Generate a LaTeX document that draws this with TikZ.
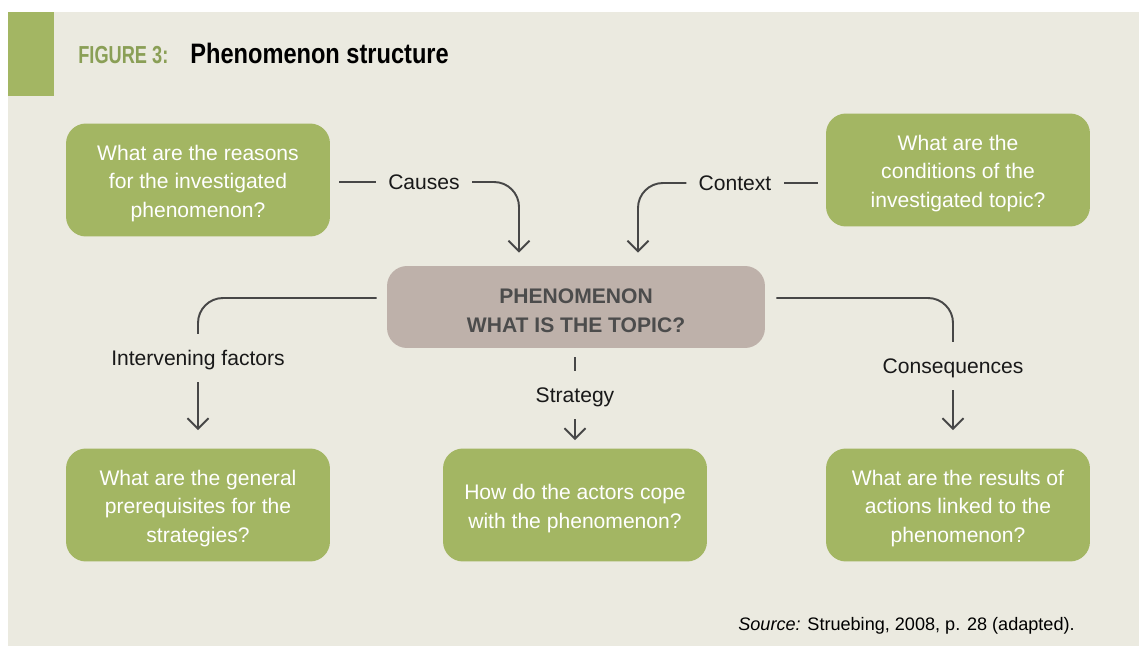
\documentclass[tikz,border=0pt]{standalone}
\usepackage{fontspec}
\setmainfont{Liberation Sans}
\newfontfamily\figfont[FakeStretch=0.74]{Liberation Sans}
\newfontfamily\headfont[FakeStretch=0.84]{Liberation Sans}
\usepackage{xcolor}
\usetikzlibrary{arrows.meta}
\definecolor{leaf}{HTML}{A3B663}
\definecolor{paper}{HTML}{EBEAE0}
\definecolor{taupe}{HTML}{BEB1AA}
\definecolor{ink}{HTML}{474747}
\definecolor{figgreen}{HTML}{8A9F56}
\newcommand{\lift}{\rule{0pt}{12.6pt}}

\begin{document}
\begin{tikzpicture}[x=0.02cm,y=-0.02cm,
            question/.style={fill=leaf,text=white,rounded corners=0.4cm,minimum width=5.28cm,minimum height=2.26cm,
                align=center,font=\fontsize{12}{16.4}\selectfont},
            core/.style={fill=taupe,text=black!70,rounded corners=0.4cm,minimum width=7.56cm,minimum height=1.64cm,
                align=center,font=\fontsize{12}{16.4}\selectfont\bfseries},
            tag/.style={inner xsep=0.24cm,inner ysep=0.245cm,text height=10.6pt,text depth=2.5pt,
                text=black!90,font=\fontsize{12}{14}\selectfont},
            link/.style={draw=ink,line width=1.1pt,rounded corners=0.5cm},
            arrow/.style={link,-{Straight Barb[length=6pt,width=12pt]}}]
        \useasboundingbox (0,0) rectangle (1139,646);
        \fill[paper] (8,12) rectangle (1139,646);
        \fill[leaf] (8,12) rectangle (54,96);
        \node[anchor=base west,inner sep=0,text=figgreen,font=\figfont\bfseries\fontsize{14}{14}\selectfont] (fignum) at (78,63) {FIGURE 3:};
        \node[anchor=base west,inner sep=0,font=\headfont\bfseries\fontsize{16}{16}\selectfont] (figtitle) at (190,63) {Phenomenon structure};

        \node[question] (reasons) at (198,180) {\lift What are the reasons\\for the investigated\\phenomenon?};
        \node[question] (conditions) at (958,170) {\lift What are the\\conditions of the\\investigated topic?};
        \node[core] (phen) at (576,307) {\lift PHENOMENON\\WHAT IS THE TOPIC?};
        \node[question] (prereq) at (198,505) {\lift What are the general\\prerequisites for the\\strategies?};
        \node[question] (coping) at (575,505) {\lift How do the actors cope\\with the phenomenon?};
        \node[question] (results) at (958,505) {\lift What are the results of\\actions linked to the\\phenomenon?};

        \node[tag] (causes) at (424,182) {Causes};
        \node[tag] (context) at (735,183) {Context};
        \node[tag] (interv) at (198,358) {Intervening factors};
        \node[tag] (strategy) at (575,395) {Strategy};
        \node[tag] (conseq) at (953,366) {Consequences};

        \draw[link,shorten <=0.18cm] (reasons.east |- causes) -- (causes.west);
        \draw[arrow,shorten >=0.26cm] (causes.east) -| ([xshift=-1.14cm]phen.north);
        \draw[link,shorten <=0.16cm] (conditions.west |- context) -- (context.east);
        \draw[arrow,shorten >=0.26cm] (context.west) -| ([xshift=1.24cm]phen.north);
        \draw[link,shorten <=0.2cm] ([yshift=0.18cm]phen.west) -| (interv.north);
        \draw[arrow,shorten >=0.36cm] (interv.south) -- (prereq.north);
        \draw[link,shorten <=0.18cm] (phen.south -| strategy) -- (strategy.north);
        \draw[arrow,shorten >=0.16cm] (strategy.south) -- (strategy.south |- coping.north);
        \draw[link,shorten <=0.22cm] ([yshift=0.18cm]phen.east) -| (conseq.north);
        \draw[arrow,shorten >=0.36cm] (conseq.south) -- (conseq.south |- results.north);

        \node[anchor=base west,inner sep=0,font=\fontsize{10.3}{12}\selectfont] (source) at (738,630) {\textit{Source:} Struebing, 2008, p. 28 (adapted).};
    \end{tikzpicture}
\end{document}
